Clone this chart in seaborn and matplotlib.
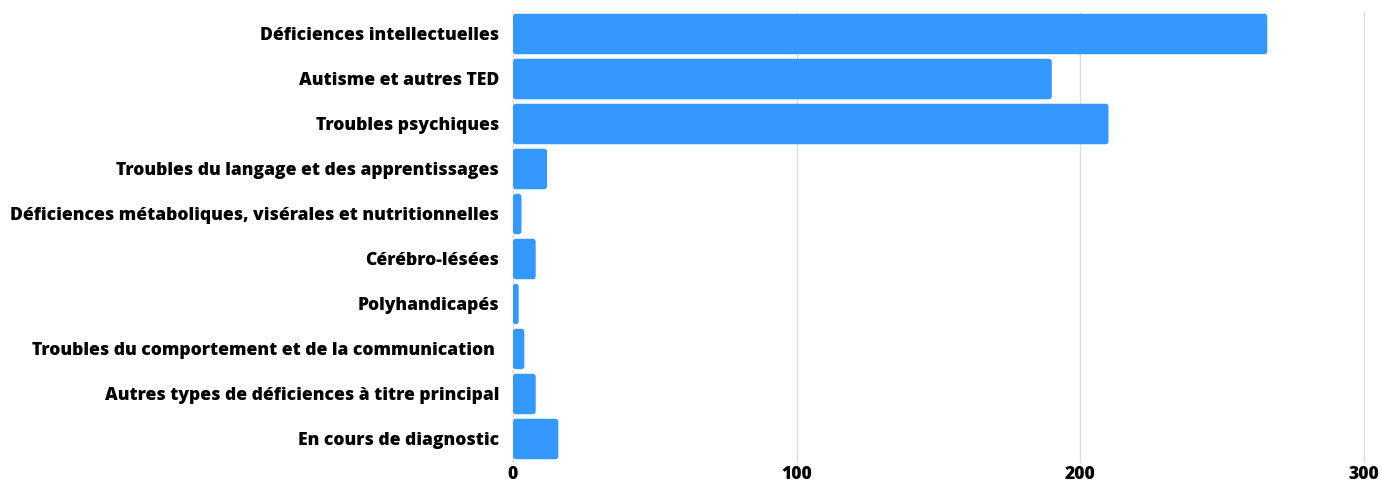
import matplotlib
matplotlib.use("Agg")
import matplotlib.pyplot as plt
import seaborn as sns
import pandas as pd
from matplotlib.patches import FancyBboxPatch

categories = [
    "Déficiences intellectuelles",
    "Autisme et autres TED",
    "Troubles psychiques",
    "Troubles du langage et des apprentissages",
    "Déficiences métaboliques, visérales et nutritionnelles",
    "Cérébro-lésées",
    "Polyhandicapés",
    "Troubles du comportement et de la communication ",
    "Autres types de déficiences à titre principal",
    "En cours de diagnostic",
]
values = [266, 190, 210, 12, 3, 8, 2, 4, 8, 16]
x_ticks = [0, 100, 200, 300]

df = pd.DataFrame({"categorie": categories, "effectif": values})

sns.set_theme(style="white")
plt.rcParams["font.family"] = ["Open Sans", "DejaVu Sans"]

W, H = 1382, 484
fig = plt.figure(figsize=(W / 100, H / 100), dpi=100)
ax = fig.add_axes([513 / W, 1 - 461.5 / H, (1363.7 - 513) / W, 450 / H])

bar_color = "#3399ff"
sns.barplot(data=df, x="effectif", y="categorie", orient="h",
            color=bar_color, saturation=1, width=0.9, ax=ax, zorder=3)

# Replace the plain rectangles by slightly rounded ones
px_per_x = (1363.7 - 513) / 300
px_per_y = 45.0
r_px = 3.0
for p in list(ax.patches):
    x0, y0 = p.get_x(), p.get_y()
    w, h = p.get_width(), p.get_height()
    rs = min(r_px / px_per_x, w / 2)
    fb = FancyBboxPatch((x0, y0), w, h,
                        boxstyle=f"round,pad=0,rounding_size={rs}",
                        mutation_aspect=px_per_x / px_per_y,
                        facecolor=bar_color, edgecolor="none", zorder=3)
    p.remove()
    ax.add_patch(fb)

ax.set_xlim(0, 300)
ax.set_ylim(9.5, -0.5)
ax.set_xticks(x_ticks)
ax.set_xticklabels([str(t) for t in x_ticks])
ax.set_xlabel("")
ax.set_ylabel("")
ax.grid(axis="x", color="#dddddd", linewidth=1, zorder=0)
ax.grid(axis="y", visible=False)
for line in ax.get_xgridlines():
    line.set_clip_on(False)
for s in ax.spines.values():
    s.set_visible(False)
ax.tick_params(axis="both", length=0)
ax.tick_params(axis="y", pad=10, labelsize=12.6)
ax.tick_params(axis="x", pad=3, labelsize=12.6)
for lbl in ax.get_yticklabels() + ax.get_xticklabels():
    lbl.set_fontweight("heavy")
    lbl.set_color("black")

fig.savefig("out.png", dpi=100)
